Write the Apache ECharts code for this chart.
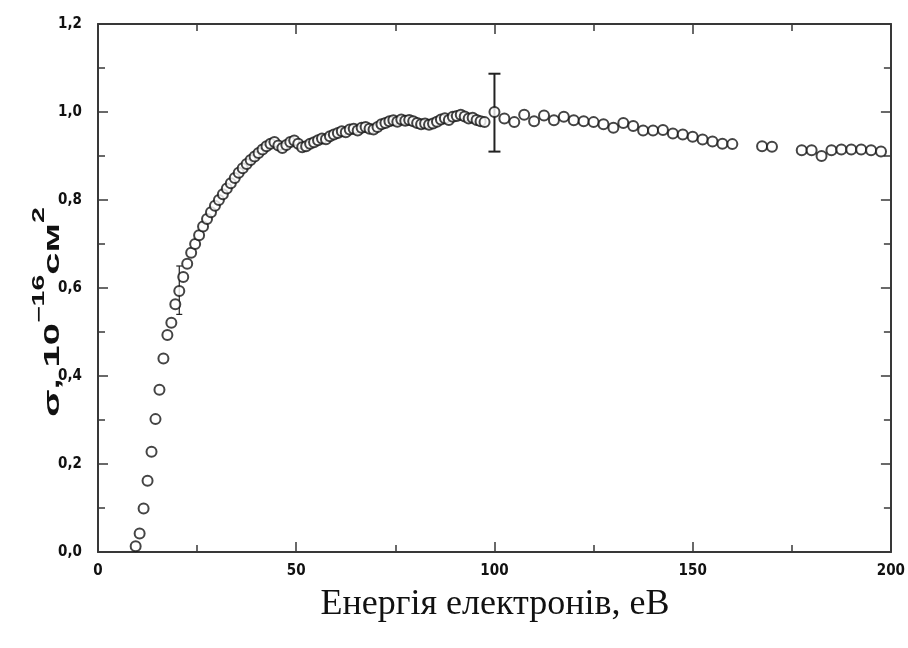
<!DOCTYPE html>
<html>
<head>
<meta charset="utf-8">
<script src="https://cdn.jsdelivr.net/npm/echarts@6/dist/echarts.min.js"></script>
<style>
html,body{margin:0;padding:0;background:#fff;}
#chart{width:908px;height:648px;}
</style>
</head>
<body>
<div id="chart"></div>
<script>
// Dense section (1 eV spacing)
var energyLow = [9.5,10.5,11.5,12.5,13.5,14.5,15.5,16.5,17.5,18.5,19.5,20.5,21.5,22.5,23.5,24.5,25.5,26.5,27.5,28.5,29.5,30.5,31.5,32.5,33.5,34.5,35.5,36.5,37.5,38.5,39.5,40.5,41.5,42.5,43.5,44.5,45.5,46.5,47.5,48.5,49.5,50.5,51.5,52.5,53.5,54.5,55.5,56.5,57.5,58.5,59.5,60.5,61.5,62.5,63.5,64.5,65.5,66.5,67.5,68.5,69.5,70.5,71.5,72.5,73.5,74.5,75.5,76.5,77.5,78.5,79.5,80.5,81.5,82.5,83.5,84.5,85.5,86.5,87.5,88.5,89.5,90.5,91.5,92.5,93.5,94.5,95.5,96.5,97.5];
var sigmaLow = [0.013,0.042,0.099,0.162,0.228,0.302,0.369,0.44,0.493,0.521,0.563,0.593,0.625,0.655,0.68,0.70,0.72,0.74,0.757,0.772,0.787,0.80,0.813,0.826,0.838,0.85,0.862,0.872,0.882,0.891,0.899,0.907,0.915,0.922,0.928,0.932,0.924,0.918,0.925,0.932,0.935,0.928,0.92,0.922,0.928,0.931,0.936,0.94,0.938,0.945,0.949,0.952,0.956,0.954,0.96,0.962,0.958,0.964,0.966,0.962,0.96,0.966,0.972,0.975,0.979,0.981,0.978,0.983,0.98,0.982,0.979,0.975,0.972,0.974,0.971,0.974,0.978,0.983,0.986,0.982,0.989,0.991,0.994,0.99,0.985,0.987,0.982,0.979,0.977];
// Sparse section (2.5 eV spacing)
var energyHigh = [100,102.5,105,107.5,110,112.5,115,117.5,120,122.5,125,127.5,130,132.5,135,137.5,140,142.5,145,147.5,150,152.5,155,157.5,160,167.5,170,177.5,180,182.5,185,187.5,190,192.5,195,197.5];
var sigmaHigh = [1.0,0.985,0.977,0.994,0.979,0.992,0.981,0.989,0.981,0.979,0.977,0.972,0.964,0.975,0.968,0.958,0.958,0.959,0.951,0.949,0.944,0.9375,0.933,0.928,0.927,0.922,0.921,0.913,0.913,0.90,0.913,0.915,0.915,0.915,0.913,0.91];
// Error bars
var errEnergy = [20.5, 100];
var errLow = [0.54, 0.91];
var errHigh = [0.65, 1.087];
// Axis ticks
var xTicks = [0, 50, 100, 150, 200];
var yTicks = [0, 0.2, 0.4, 0.6, 0.8, 1.0, 1.2];

var pts = [];
energyLow.forEach(function(x,i){pts.push([x, sigmaLow[i]]);});
energyHigh.forEach(function(x,i){pts.push([x, sigmaHigh[i]]);});
var errData = errEnergy.map(function(x,i){return [x, errLow[i], errHigh[i]];});

var axisCol = '#383838';
var tickFont = {fontFamily:'"Liberation Sans Narrow","DejaVu Sans Condensed","Liberation Sans",sans-serif', fontWeight:'bold', fontSize:15, color:'#111'};

function xAx(pos, showLabel){
  return {type:'value', position:pos, min:xTicks[0], max:xTicks[xTicks.length-1], interval:50,
    axisLine:{show:true, onZero:false, lineStyle:{color:axisCol, width:2}},
    axisTick:{show:true, inside:true, length:10, lineStyle:{color:axisCol, width:1.5}},
    minorTick:{show:true, splitNumber:2, length:7, lineStyle:{color:axisCol, width:1.5}},
    splitLine:{show:false},
    axisLabel:Object.assign({show:showLabel, margin:12, formatter:function(v){return String(v);}}, tickFont)};
}
function yAx(pos, showLabel){
  return {type:'value', position:pos, min:yTicks[0], max:yTicks[yTicks.length-1], interval:0.2,
    axisLine:{show:true, onZero:false, lineStyle:{color:axisCol, width:2}},
    axisTick:{show:true, inside:true, length:10, lineStyle:{color:axisCol, width:1.5}},
    minorTick:{show:true, splitNumber:2, length:7, lineStyle:{color:axisCol, width:1.5}},
    splitLine:{show:false},
    axisLabel:Object.assign({show:showLabel, margin:16, formatter:function(v){return v.toFixed(1).replace('.', ',');}}, tickFont)};
}

var chart = echarts.init(document.getElementById('chart'), null, {renderer:'canvas'});
chart.setOption({
  animation:false,
  backgroundColor:'#fff',
  grid:{left:98, right:15, top:24, bottom:96, containLabel:false},
  xAxis:[xAx('bottom', true), xAx('top', false)],
  yAxis:[yAx('left', true), yAx('right', false)],
  series:[
    {type:'custom', xAxisIndex:0, yAxisIndex:0, data:errData, z:1,
     renderItem:function(params, api){
       var x = api.value(0);
       var lo = api.coord([x, api.value(1)]);
       var hi = api.coord([x, api.value(2)]);
       var hw = params.dataIndex === 0 ? 3 : 6;
       var st = {stroke:'#222', lineWidth:params.dataIndex === 0 ? 1.2 : 2};
       return {type:'group', children:[
         {type:'line', shape:{x1:lo[0], y1:lo[1], x2:hi[0], y2:hi[1]}, style:st},
         {type:'line', shape:{x1:lo[0]-hw, y1:lo[1], x2:lo[0]+hw, y2:lo[1]}, style:st},
         {type:'line', shape:{x1:hi[0]-hw, y1:hi[1], x2:hi[0]+hw, y2:hi[1]}, style:st}
       ]};
     }},
    {type:'scatter', xAxisIndex:0, yAxisIndex:0, data:pts, symbol:'circle', symbolSize:10, z:2,
     itemStyle:{color:'#fff', borderColor:'#151515', borderWidth:2}}
  ],
  graphic:[
    {type:'text', x:48, y:312, rotation:Math.PI/2, scaleX:1.9, scaleY:1.05,
     style:{text:'{m|σ, 10}{s|−16}{m|см}{s|2}', align:'center', verticalAlign:'middle',
       rich:{
         m:{fontFamily:'"Liberation Sans","DejaVu Sans",sans-serif', fontWeight:'bold', fontSize:21, fill:'#111', lineHeight:30, verticalAlign:'bottom'},
         s:{fontFamily:'"Liberation Sans","DejaVu Sans",sans-serif', fontWeight:'bold', fontSize:15, fill:'#111', lineHeight:30, verticalAlign:'top'}
       }}},
    {type:'text', x:495, y:605,
     style:{text:'Енергія електронів, еВ', align:'center', verticalAlign:'middle',
       fontFamily:'"Liberation Serif","Times New Roman",serif', fontSize:36, fill:'#111'}}
  ]
});
</script>
</body>
</html>
